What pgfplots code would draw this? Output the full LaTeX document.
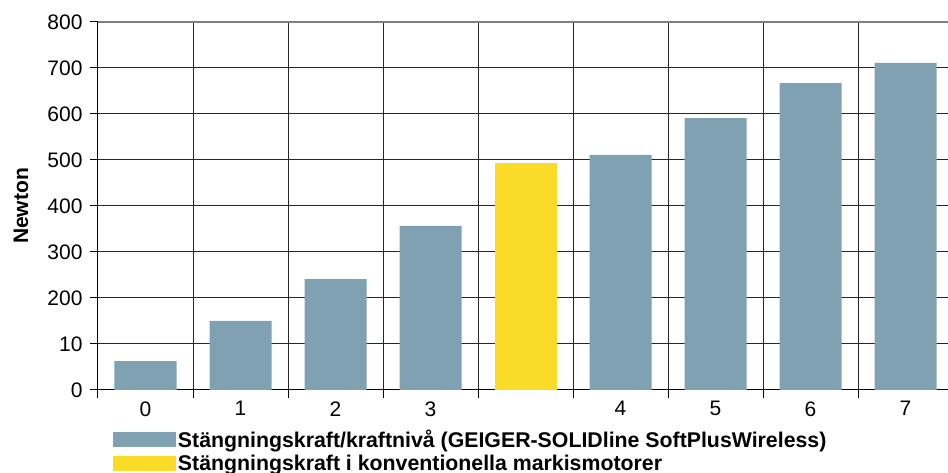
\documentclass[border=0pt]{standalone}
\usepackage{fontspec}
\setmainfont{Liberation Sans}
\usepackage{pgfplots}
\pgfplotsset{compat=1.18}
\definecolor{barblue}{HTML}{80A1B2}
\definecolor{baryel}{HTML}{FADC28}
\begin{document}
\begin{tikzpicture}[x=1pt,y=1pt]
\useasboundingbox (0,0) rectangle (948,473);
\begin{axis}[
  at={(98pt,83pt)}, anchor=south west,
  scale only axis, width=855pt, height=368pt,
  xmin=-0.5, xmax=8.5, ymin=0, ymax=800,
  axis lines*=left,
  axis line style={black, line width=1pt},
  ybar, bar width=62pt, bar shift=0pt,
  xtick={-0.5,0.5,...,8.5},
  x tick label as interval,
  xticklabels={0,1,2,3,,4,5,6,7},
  ytick={0,100,...,800},
  yticklabels={0,10,200,300,400,500,600,700,800},
  tick align=outside, major tick length=8pt,
  tick style={black, line width=1pt},
  xmajorgrids, ymajorgrids,
  major grid style={black!85, line width=1pt},
  /pgf/number format/assume math mode=true,
  ticklabel style={font=\fontsize{21}{24}\selectfont},
  yticklabel style={xshift=-4pt},
  legend style={at={(axis description cs:0.0175,-0.103)}, anchor=north west,
    draw=none, fill=none, inner sep=0pt, outer sep=0pt, row sep=2pt,
    font=\bfseries\fontsize{21.3}{24}\selectfont,
    nodes={inner sep=2pt},
    /tikz/every even column/.append style={column sep=0pt}},
  legend cell align=left,
  legend image code/.code={\fill[#1] (0pt,-7.5pt) rectangle (63pt,7.5pt);},
]
\addplot[fill=barblue, draw=none] coordinates {(0,63) (1,150) (2,241) (3,357) (5,511) (6,591) (7,667) (8,711)};
\addlegendentry{Stängningskraft/kraftnivå (GEIGER-SOLIDline SoftPlusWireless)}
\addplot[fill=baryel, draw=none] coordinates {(4,493)};
\addlegendentry{Stängningskraft i konventionella markismotorer}
\end{axis}
\draw[black!50, line width=1.5pt] (98,451) -- (948,451);
\node[rotate=90, font=\bfseries\fontsize{21}{24}\selectfont] at (21,267) {Newton};
\end{tikzpicture}
\end{document}
